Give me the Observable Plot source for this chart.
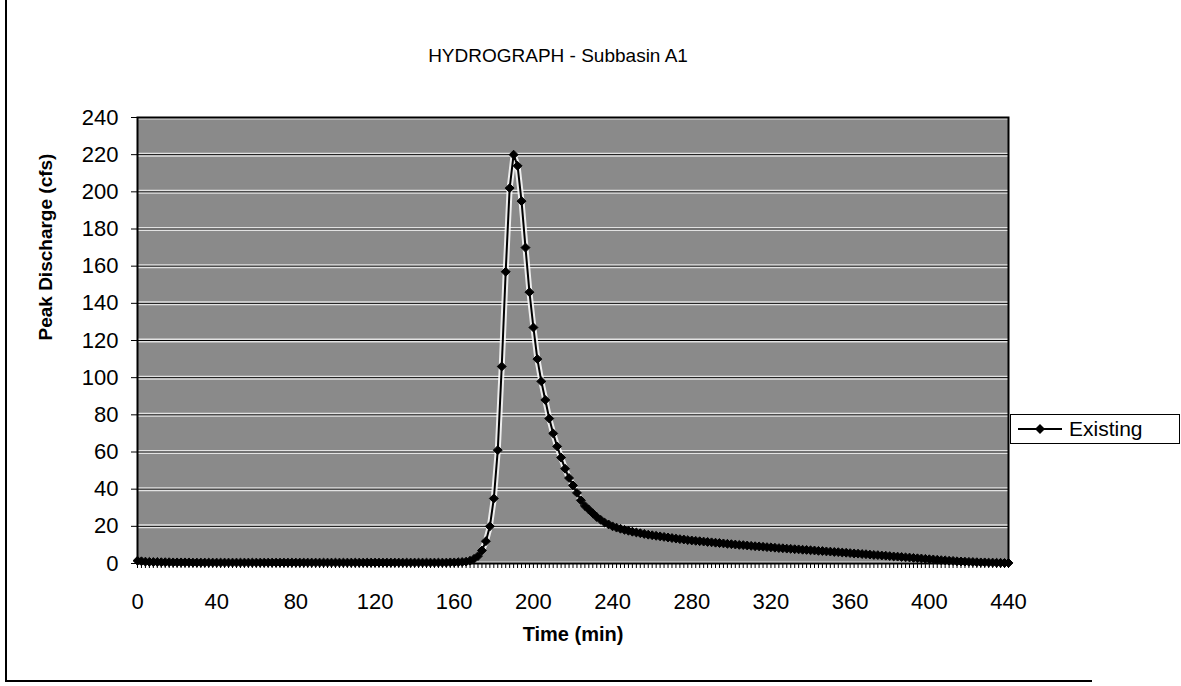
<!DOCTYPE html>
<html>
<head>
<meta charset="utf-8">
<script src="https://cdn.jsdelivr.net/npm/d3@7"></script>
<script src="https://cdn.jsdelivr.net/npm/@observablehq/plot@0.6"></script>
<style>
  html, body { margin: 0; padding: 0; background: #fff; }
  #wrap { position: relative; width: 1181px; height: 686px; font-family: "Liberation Sans", Arial, sans-serif; }
  #border { position: absolute; left: 5px; top: 0; width: 1085px; height: 680px; border-left: 2px solid #000; border-bottom: 2px solid #000; }
  #legend { position: absolute; left: 1010px; top: 414px; width: 168px; height: 28px; border: 1.5px solid #000; background: #fff; display: flex; align-items: center; font-size: 21px; color: #000; }
  #legend svg { margin-left: 6px; margin-right: 6px; }
</style>
</head>
<body>
<div id="wrap">
  <div id="border"></div>
  <div id="chart"></div>
  <div id="legend">
    <svg width="46" height="14"><line x1="1" y1="7" x2="45" y2="7" stroke="#000" stroke-width="2"></line><path d="M23,2 L28,7 L23,12 L18,7 Z" fill="#000"></path></svg>
    <span>Existing</span>
  </div>
</div>
<script>
const chartTitle = "HYDROGRAPH - Subbasin A1";
const xLabel = "Time (min)";
const yLabel = "Peak Discharge (cfs)";
const seriesName = "Existing";

const xTicks = [0, 40, 80, 120, 160, 200, 240, 280, 320, 360, 400, 440];
const yTicks = [0, 20, 40, 60, 80, 100, 120, 140, 160, 180, 200, 220, 240];

const times = [
  0, 2, 4, 6, 8, 10, 12, 14, 16, 18,
  20, 22, 24, 26, 28, 30, 32, 34, 36, 38,
  40, 42, 44, 46, 48, 50, 52, 54, 56, 58,
  60, 62, 64, 66, 68, 70, 72, 74, 76, 78,
  80, 82, 84, 86, 88, 90, 92, 94, 96, 98,
  100, 102, 104, 106, 108, 110, 112, 114, 116, 118,
  120, 122, 124, 126, 128, 130, 132, 134, 136, 138,
  140, 142, 144, 146, 148, 150, 152, 154, 156, 158,
  160, 162, 164, 166, 168, 170, 172, 174, 176, 178,
  180, 182, 184, 186, 188, 190, 192, 194, 196, 198,
  200, 202, 204, 206, 208, 210, 212, 214, 216, 218,
  220, 222, 224, 226, 228, 230, 232, 234, 236, 238,
  240, 242, 244, 246, 248, 250, 252, 254, 256, 258,
  260, 262, 264, 266, 268, 270, 272, 274, 276, 278,
  280, 282, 284, 286, 288, 290, 292, 294, 296, 298,
  300, 302, 304, 306, 308, 310, 312, 314, 316, 318,
  320, 322, 324, 326, 328, 330, 332, 334, 336, 338,
  340, 342, 344, 346, 348, 350, 352, 354, 356, 358,
  360, 362, 364, 366, 368, 370, 372, 374, 376, 378,
  380, 382, 384, 386, 388, 390, 392, 394, 396, 398,
  400, 402, 404, 406, 408, 410, 412, 414, 416, 418,
  420, 422, 424, 426, 428, 430, 432, 434, 436, 438,
  440
];

const flows = [
  1.5, 1.2, 1.0, 0.9, 0.8, 0.8, 0.7, 0.7, 0.7, 0.6,
  0.6, 0.6, 0.6, 0.6, 0.5, 0.5, 0.5, 0.5, 0.5, 0.5,
  0.5, 0.5, 0.5, 0.5, 0.5, 0.5, 0.5, 0.5, 0.5, 0.5,
  0.5, 0.5, 0.5, 0.5, 0.5, 0.5, 0.5, 0.5, 0.5, 0.5,
  0.5, 0.5, 0.5, 0.5, 0.5, 0.5, 0.5, 0.5, 0.5, 0.5,
  0.5, 0.5, 0.5, 0.5, 0.5, 0.5, 0.5, 0.5, 0.5, 0.5,
  0.5, 0.5, 0.5, 0.5, 0.5, 0.5, 0.5, 0.5, 0.5, 0.5,
  0.5, 0.5, 0.5, 0.5, 0.5, 0.5, 0.5, 0.5, 0.5, 0.6,
  0.6, 0.7, 0.8, 1.0, 1.5, 2.5, 4, 7, 12, 20,
  35, 61, 106, 157, 202, 220, 214, 195, 170, 146,
  127, 110, 98, 88, 78, 70, 63, 57, 51, 46,
  42, 38, 34, 31, 29, 27, 25, 23.5, 22, 21,
  20, 19.3, 18.7, 18.1, 17.6, 17.1, 16.7, 16.3, 15.9, 15.5,
  15.2, 14.9, 14.6, 14.3, 14.0, 13.7, 13.4, 13.1, 12.9, 12.6,
  12.4, 12.2, 12.0, 11.8, 11.6, 11.4, 11.2, 11.0, 10.8, 10.6,
  10.4, 10.2, 10.0, 9.9, 9.7, 9.5, 9.3, 9.2, 9.0, 8.8,
  8.7, 8.5, 8.3, 8.2, 8.0, 7.9, 7.7, 7.6, 7.4, 7.3,
  7.1, 7.0, 6.8, 6.7, 6.5, 6.4, 6.2, 6.1, 5.9, 5.8,
  5.6, 5.4, 5.3, 5.1, 5.0, 4.8, 4.6, 4.5, 4.3, 4.2,
  4.0, 3.8, 3.7, 3.5, 3.3, 3.2, 3.0, 2.8, 2.7, 2.5,
  2.3, 2.2, 2.0, 1.8, 1.7, 1.5, 1.4, 1.2, 1.1, 1.0,
  0.9, 0.8, 0.7, 0.6, 0.6, 0.5, 0.5, 0.4, 0.4, 0.3,
  0.3
];

const data = times.map((t, i) => ({time: t, flow: flows[i], series: seriesName}));

const chart = Plot.plot({
  width: 1181,
  height: 686,
  marginLeft: 137,
  marginRight: 173,
  marginTop: 117,
  marginBottom: 123,
  x: {domain: [0, 440]},
  y: {domain: [0, 240]},
  style: {fontFamily: '"Liberation Sans", Arial, sans-serif', fontSize: "22px", color: "#000", background: "transparent", overflow: "visible"},
  marks: [
    Plot.frame({fill: "#8a8a8a"}),
    Plot.ruleY(yTicks, {stroke: "#fff", strokeWidth: 4, strokeOpacity: 0.75}),
    Plot.ruleY(yTicks, {stroke: "#000", strokeWidth: 1}),
    Plot.axisY({ticks: yTicks, tickSize: 6, tickPadding: 13, label: null, fontSize: 22}),
    Plot.axisX({ticks: xTicks, tickSize: 0, tickPadding: 30, label: null, fontSize: 22}),
    Plot.axisX({ticks: times, tickSize: 5, tickFormat: () => "", label: null}),
    Plot.line(data, {x: "time", y: "flow", stroke: "#fff", strokeWidth: 6, strokeOpacity: 0.85}),
    Plot.line(data, {x: "time", y: "flow", stroke: "#000", strokeWidth: 2}),
    Plot.dot(data, {x: "time", y: "flow", symbol: "diamond2", r: 4, fill: "#000", stroke: "#000", strokeWidth: 1}),
    Plot.frame({stroke: "#000", strokeWidth: 2}),
    Plot.text([chartTitle], {frameAnchor: "top", dx: -15, dy: -69, fontSize: 19, fill: "#000"}),
    Plot.text([yLabel], {frameAnchor: "left", dx: -92, rotate: -90, fontSize: 19, fontWeight: "bold", fill: "#000"}),
    Plot.text([xLabel], {frameAnchor: "bottom", dy: 77, fontSize: 20, fontWeight: "bold", fill: "#000"})
  ]
});
document.getElementById("chart").appendChild(chart);
</script>
</body>
</html>
